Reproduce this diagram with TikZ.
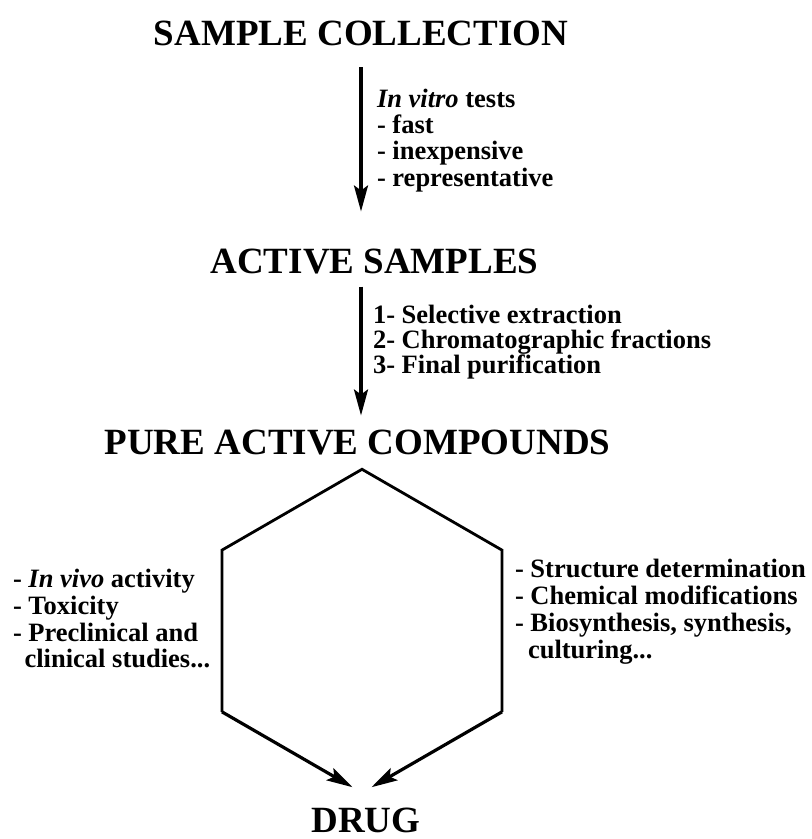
\documentclass[tikz,border=0pt]{standalone}
\usepackage{fontspec}
\setmainfont{Liberation Serif}
\usepackage{tikz}
\usetikzlibrary{positioning, arrows.meta, calc}

\begin{document}
\begin{tikzpicture}[x=0.5pt, y=0.5pt]
      % Define styles for nodes
      \tikzset{
        title/.style={font=\fontsize{18.5}{22}\selectfont\bfseries, inner sep=0pt, outer sep=0pt, anchor=base},
        notes/.style={font=\fontsize{13.25}{13.3}\selectfont\bfseries, align=left, inner sep=0pt, outer sep=0pt, anchor=north west},
        flow/.style={line width=1.6pt, -{Stealth[length=13pt, width=7pt, inset=2.5pt]}},
        hexline/.style={line width=1.4pt, line join=miter}
      }
      \useasboundingbox (0,0) rectangle (812,839);

      % Stages of the screening
      \node[title] (sample) at (361,793) {SAMPLE COLLECTION};
      \node[title] (active) at (374.5,565) {ACTIVE SAMPLES};
      \node[title] (pure) at (357.5,384) {PURE ACTIVE COMPOUNDS};
      \node[title] (drug) at (366,6) {DRUG};

      % Vertical arrows between the stages
      \draw[flow, shorten <=10.5pt, shorten >=19pt] (sample.south) -- (sample.south |- active.north);
      \draw[flow, shorten <=6pt, shorten >=7.5pt] (sample.south |- active.south) -- (sample.south |- pure.north);

      % Hexagon open at the bottom
      \coordinate (hexc) at (362,208);
      \coordinate (top) at ($(hexc)+(90:161.7)$);
      \coordinate (ul) at ($(hexc)+(150:161.7)$);
      \coordinate (ll) at ($(hexc)+(210:161.7)$);
      \coordinate (bot) at ($(hexc)+(270:161.7)$);
      \coordinate (lr) at ($(hexc)+(330:161.7)$);
      \coordinate (ur) at ($(hexc)+(30:161.7)$);
      \draw[hexline] (ll) -- (ul) -- (top) -- (ur) -- (lr);
      \draw[flow, shorten >=5.5pt] (ll) -- (bot);
      \draw[flow, shorten >=5.5pt] (lr) -- (bot);

      % Notes beside the arrows and the hexagon
      \node[notes, font=\fontsize{13.25}{13.15}\selectfont\bfseries] (vitro) at (377,750)
        {\textit{In vitro} tests\\- fast\\- inexpensive\\- representative};
      \node[notes, font=\fontsize{13.25}{12.5}\selectfont\bfseries] (steps) at (373,534)
        {1- Selective extraction\\2- Chromatographic fractions\\3- Final purification};
      \node[notes] (invivo) at (13,269.5)
        {- \textit{In vivo} activity\\- Toxicity\\- Preclinical and\\\hspace*{5.8pt}clinical studies...};
      \node[notes, font=\fontsize{13.25}{13.65}\selectfont\bfseries] (chem) at (515,280.3)
        {- Structure determination\\- Chemical modifications\\- Biosynthesis, synthesis,\\\hspace*{6.5pt}culturing...};
    \end{tikzpicture}
\end{document}
